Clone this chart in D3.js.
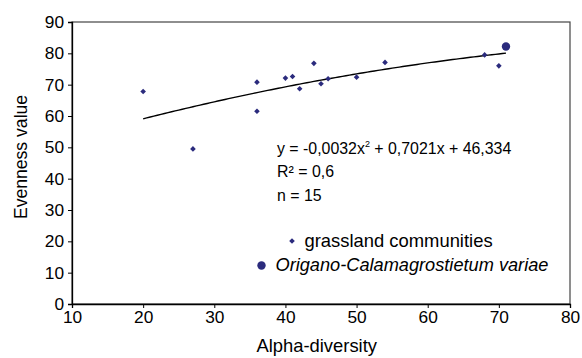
<!DOCTYPE html>
<html><head><meta charset="utf-8">
<script src="https://cdn.jsdelivr.net/npm/d3@7"></script>
<style>body{margin:0;background:#fff}svg{display:block;font-family:Arial,"Liberation Sans",sans-serif}</style>
</head><body><svg id="c" width="582" height="358"></svg>
<script>
const grassX = [20, 27, 36, 36, 40, 41, 42, 44, 45, 46, 50, 54, 68, 70];
const grassY = [67.8, 49.5, 70.8, 61.5, 72.1, 72.6, 68.7, 76.8, 70.3, 71.9, 72.4, 77.1, 79.5, 76.0];
const origX = [71];
const origY = [82.2];
const trendCoef = [-0.0032, 0.7021, 46.334];
const trendRange = [20, 71];
const xTicks = [10, 20, 30, 40, 50, 60, 70, 80];
const yTicks = [0, 10, 20, 30, 40, 50, 60, 70, 80, 90];

const svg = d3.select("#c");
const L = 72, R = 570, T = 22, B = 304;
const x = d3.scaleLinear().domain([10, 80]).range([L, R]);
const y = d3.scaleLinear().domain([0, 90]).range([B, T]);
const col = "#2b2b7d";
const fs = "17.3px";

svg.append("rect").attr("x", L).attr("y", T).attr("width", R - L).attr("height", B - T)
  .attr("fill", "none").attr("stroke", "#444").attr("stroke-width", 1.2);

const xa = svg.append("g").attr("transform", `translate(0,${B})`)
  .call(d3.axisBottom(x).tickValues(xTicks).tickSize(4).tickPadding(3).tickFormat(d3.format("d")));
const ya = svg.append("g").attr("transform", `translate(${L},0)`)
  .call(d3.axisLeft(y).tickValues(yTicks).tickSize(4).tickPadding(4).tickFormat(d3.format("d")));
[xa, ya].forEach(g => {
  g.select(".domain").attr("stroke", "#000").attr("stroke-width", 1.3);
  g.selectAll(".tick line").attr("stroke", "#000");
  g.selectAll("text").attr("fill", "#000").style("font-size", fs).style("font-family", "Arial, 'Liberation Sans', sans-serif");
});

// trendline
const f = v => trendCoef[0] * v * v + trendCoef[1] * v + trendCoef[2];
const tx = d3.range(trendRange[0], trendRange[1] + 0.001, 0.5);
svg.append("path").datum(tx).attr("fill", "none").attr("stroke", "#000").attr("stroke-width", 1.4)
  .attr("d", d3.line().x(d => x(d)).y(d => y(f(d))));

const diamond = "M0,-2.8L2.8,0L0,2.8L-2.8,0Z";
svg.append("g").selectAll("path").data(grassX).join("path")
  .attr("transform", (d, i) => `translate(${x(d)},${y(grassY[i])})`)
  .attr("d", diamond).attr("fill", col);
svg.append("g").selectAll("circle").data(origX).join("circle")
  .attr("cx", d => x(d)).attr("cy", (d, i) => y(origY[i])).attr("r", 4.2).attr("fill", col);

// equation text
const efs = "15.9px";
const eq = svg.append("text").attr("x", 277).attr("y", 154).style("font-size", efs).attr("fill", "#000");
eq.append("tspan").text("y = -0,0032x");
eq.append("tspan").attr("dy", -7).style("font-size", "9px").text("2");
eq.append("tspan").attr("dy", 7).text(" + 0,7021x + 46,334");
svg.append("text").attr("x", 277).attr("y", 177).style("font-size", efs).text("R² = 0,6");
svg.append("text").attr("x", 277).attr("y", 201).style("font-size", efs).text("n = 15");

// legend
svg.append("path").attr("transform", "translate(292,241)").attr("d", diamond).attr("fill", col);
svg.append("text").attr("x", 304.5).attr("y", 246.5).style("font-size", "18.4px").text("grassland communities");
svg.append("circle").attr("cx", 261.5).attr("cy", 265.5).attr("r", 4.2).attr("fill", col);
svg.append("text").attr("x", 275.5).attr("y", 271).style("font-size", "18.2px").style("font-style", "italic")
  .text("Origano-Calamagrostietum variae");

// axis titles
svg.append("text").attr("x", 316.7).attr("y", 352).attr("text-anchor", "middle").style("font-size", "18.4px").text("Alpha-diversity");
svg.append("text").attr("transform", "translate(27,157) rotate(-90)").attr("text-anchor", "middle").style("font-size", "17.6px").text("Evenness value");
</script></body></html>
